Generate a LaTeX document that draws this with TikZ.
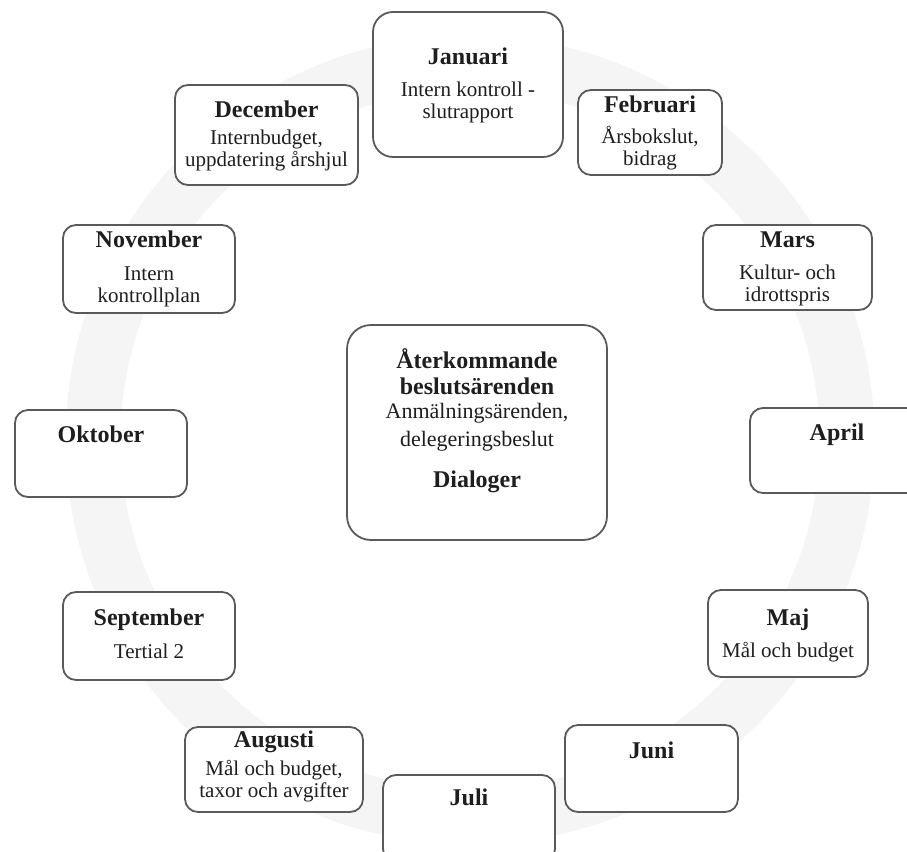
\documentclass[tikz,border=0pt]{standalone}
\usepackage{fontspec}
\setmainfont{Liberation Serif}
\usepackage{tikz}

\definecolor{boxline}{HTML}{5A5A5A}
\definecolor{boxtext}{HTML}{1E1E1E}
\definecolor{ringgray}{HTML}{F5F5F5}

\tikzset{
  monthbox/.style={draw=boxline, line width=1.8pt, fill=white,
    rounded corners=13pt, inner sep=0pt},
  monthtitle/.style={anchor=base, inner sep=0pt, align=center, text=boxtext,
    font=\fontsize{24}{26}\selectfont\bfseries},
  monthtext/.style={anchor=base, inner sep=0pt, align=center, text=boxtext,
    font=\fontsize{21}{22}\selectfont},
}

\begin{document}
\begin{tikzpicture}[x=1pt, y=-1pt]

  \useasboundingbox (0,0) rectangle (907,851);
  \clip (0,0) rectangle (907,851);

  \newcommand\RX{470};
  \newcommand\RY{440};

  % faint ring behind the year
  \draw[ringgray, line width=55pt] (\RX, \RY) circle[radius=377pt];

  % months, clockwise from the top (text y = baseline of last line)
  \node[monthbox, rounded corners=20pt, minimum width=190pt, minimum height=145pt] (jan) at (468, 84.5) {};
  \node[monthtitle] (jan-t) at (468, 65) {Januari};
  \node[monthtext] (jan-d) at (468, 118) {Intern kontroll -\\slutrapport};

  \node[monthbox, minimum width=144pt, minimum height=85pt] (feb) at (650, 132.5) {};
  \node[monthtitle] (feb-t) at (650, 112) {Februari};
  \node[monthtext] (feb-d) at (650, 165) {Årsbokslut,\\bidrag};

  \node[monthbox, minimum width=169pt, minimum height=85pt] (mar) at (787.5, 267.5) {};
  \node[monthtitle] (mar-t) at (787.5, 247) {Mars};
  \node[monthtext] (mar-d) at (787.5, 301) {Kultur- och\\idrottspris};

  \node[monthbox, minimum width=174pt, minimum height=85pt] (apr) at (837, 450.5) {};
  \node[monthtitle] (apr-t) at (837, 440) {April};

  \node[monthbox, minimum width=160pt, minimum height=87pt] (maj) at (788, 633.5) {};
  \node[monthtitle] (maj-t) at (788, 625) {Maj};
  \node[monthtext] (maj-d) at (788, 657) {Mål och budget};

  \node[monthbox, minimum width=173pt, minimum height=87pt] (jun) at (651.5, 768.5) {};
  \node[monthtitle] (jun-t) at (651.5, 758) {Juni};

  \node[monthbox, minimum width=172pt, minimum height=87pt] (jul) at (469, 818.5) {};
  \node[monthtitle] (jul-t) at (469, 805) {Juli};

  \node[monthbox, minimum width=178pt, minimum height=85pt] (aug) at (274, 769.5) {};
  \node[monthtitle] (aug-t) at (274, 747) {Augusti};
  \node[monthtext] (aug-d) at (274, 797) {Mål och budget,\\taxor och avgifter};

  \node[monthbox, minimum width=172pt, minimum height=88pt] (sep) at (149, 636) {};
  \node[monthtitle] (sep-t) at (149, 625) {September};
  \node[monthtext] (sep-d) at (149, 658) {Tertial 2};

  \node[monthbox, minimum width=172pt, minimum height=87pt] (okt) at (101, 453.5) {};
  \node[monthtitle] (okt-t) at (101, 442) {Oktober};

  \node[monthbox, minimum width=172pt, minimum height=88pt] (nov) at (149, 269) {};
  \node[monthtitle] (nov-t) at (149, 247) {November};
  \node[monthtext] (nov-d) at (149, 302) {Intern\\kontrollplan};

  \node[monthbox, minimum width=183pt, minimum height=100pt] (dec) at (266.5, 135) {};
  \node[monthtitle] (dec-t) at (266.5, 117) {December};
  \node[monthtext] (dec-d) at (266.5, 166) {Internbudget,\\uppdatering årshjul};

  % recurring items in the middle
  \node[monthbox, rounded corners=24pt, minimum width=260pt, minimum height=215pt] (mid) at (477, 432.5) {};
  \node[monthtitle] (mid-t) at (477, 394) {Återkommande\\beslutsärenden};
  \node[monthtext, font=\fontsize{22}{28}\selectfont] (mid-d) at (477, 446) {Anmälningsärenden,\\delegeringsbeslut};
  \node[monthtitle] (mid-x) at (477, 487) {Dialoger};

\end{tikzpicture}
\end{document}
